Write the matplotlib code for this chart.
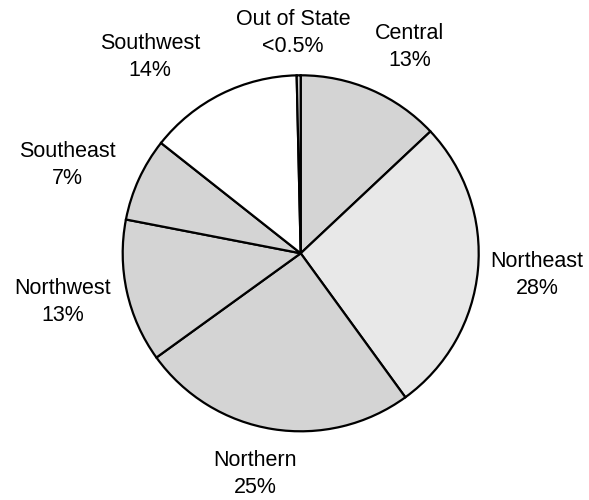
import matplotlib.pyplot as plt

regions = ["Central", "Northeast", "Northern", "Northwest", "Southeast", "Southwest", "Out of State"]
shares = [13.0, 27.0, 25.05, 13.0, 7.6, 14.0, 0.36]
pct_labels = ["13%", "28%", "25%", "13%", "7%", "14%", "<0.5%"]
colors = ["#d4d4d4", "#e8e8e8", "#d4d4d4", "#d4d4d4", "#d4d4d4", "#ffffff", "#d4d4d4"]

# label centres in pixel coords (y down)
label_pos = [(410, 47), (537, 275), (255, 474), (63, 302), (67, 165), (150, 57), (293, 33)]

fig = plt.figure(figsize=(5.89, 5), dpi=100)
ax = fig.add_axes([0, 0, 1, 1])
ax.set_xlim(0, 589)
ax.set_ylim(0, 500)
ax.set_aspect("equal")
ax.axis("off")

ax.pie(shares, colors=colors, startangle=90, counterclock=False,
       center=(300.7, 500 - 253.3), radius=178, frame=True,
       wedgeprops=dict(edgecolor="black", linewidth=1.6))
ax.set_xlim(0, 589)
ax.set_ylim(0, 500)
ax.axis("off")

for name, pct, (px, py) in zip(regions, pct_labels, label_pos):
    ax.text(px, 500 - py, name + "\n" + pct, ha="center", va="center",
            fontsize=15.5, family="Liberation Sans", linespacing=1.35)

fig.savefig("out.png", dpi=100)
